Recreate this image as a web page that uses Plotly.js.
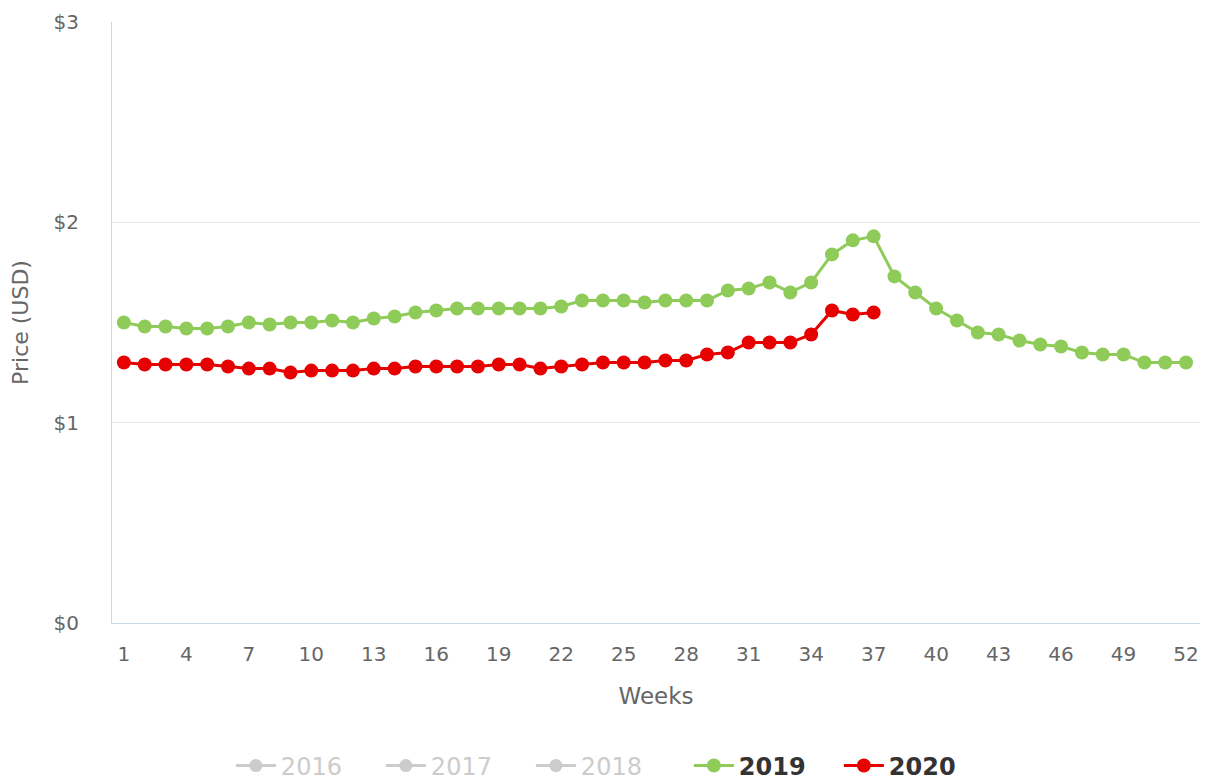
<!DOCTYPE html>
<html>
<head>
<meta charset="utf-8">
<script src="https://cdn.plot.ly/plotly-3.0.1.min.js"></script>
<style>
  html, body { margin: 0; padding: 0; background: #fff; }
  #chart { width: 1206px; height: 782px; }
</style>
</head>
<body>
<div id="chart"></div>
<script>
const weeks2019 = [1,2,3,4,5,6,7,8,9,10,11,12,13,14,15,16,17,18,19,20,21,22,23,24,25,26,27,28,29,30,31,32,33,34,35,36,37,38,39,40,41,42,43,44,45,46,47,48,49,50,51,52];
const price2019 = [1.50,1.48,1.48,1.47,1.47,1.48,1.50,1.49,1.50,1.50,1.51,1.50,1.52,1.53,1.55,1.56,1.57,1.57,1.57,1.57,1.57,1.58,1.61,1.61,1.61,1.60,1.61,1.61,1.61,1.66,1.67,1.70,1.65,1.70,1.84,1.91,1.93,1.73,1.65,1.57,1.51,1.45,1.44,1.41,1.39,1.38,1.35,1.34,1.34,1.30,1.30,1.30];
const weeks2020 = [1,2,3,4,5,6,7,8,9,10,11,12,13,14,15,16,17,18,19,20,21,22,23,24,25,26,27,28,29,30,31,32,33,34,35,36,37];
const price2020 = [1.30,1.29,1.29,1.29,1.29,1.28,1.27,1.27,1.25,1.26,1.26,1.26,1.27,1.27,1.28,1.28,1.28,1.28,1.29,1.29,1.27,1.28,1.29,1.30,1.30,1.30,1.31,1.31,1.34,1.35,1.40,1.40,1.40,1.44,1.56,1.54,1.55];
const hiddenYears = ['2016','2017','2018'];
const yTickVals = [0,1,2,3];
const yTickText = ['$0','$1','$2','$3'];

const FONT = 'DejaVu Sans, Verdana, sans-serif';
const traces = [];
hiddenYears.forEach(function (yr, i) {
  traces.push({
    x: [null], y: [null], type: 'scatter', mode: 'lines+markers',
    name: '<span style="color:#cccccc">' + yr + '</span>',
    hoverinfo: 'skip',
    legendwidth: i === 2 ? 103 : 95,
    line: { color: '#cccccc', width: 3 },
    marker: { color: '#cccccc', size: 13 }
  });
});
traces.push({
  x: weeks2019, y: price2019, type: 'scatter', mode: 'lines+markers',
  name: '<b>2019</b>',
  line: { color: '#8fcb59', width: 3 },
  marker: { color: '#8fcb59', size: 14 }
});
traces.push({
  x: weeks2020, y: price2020, type: 'scatter', mode: 'lines+markers',
  name: '<b>2020</b>',
  line: { color: '#e60000', width: 3 },
  marker: { color: '#e60000', size: 14 }
});

const layout = {
  width: 1206, height: 782,
  margin: { l: 112, r: 6, t: 22, b: 159 },
  paper_bgcolor: '#fff', plot_bgcolor: '#fff',
  font: { family: FONT, color: '#666' },
  showlegend: true,
  xaxis: {
    range: [0.43, 52.67],
    tickmode: 'linear', tick0: 1, dtick: 3,
    showgrid: false, zeroline: false,
    showline: true, linecolor: '#ccd6eb', linewidth: 1,
    ticks: 'outside', ticklen: 13, tickcolor: 'rgba(0,0,0,0)',
    tickfont: { family: FONT, size: 20, color: '#666' },
    title: { text: 'Weeks', font: { family: FONT, size: 23, color: '#666' }, standoff: 22 }
  },
  yaxis: {
    range: [0, 3],
    tickmode: 'array', tickvals: yTickVals, ticktext: yTickText,
    showgrid: true, gridcolor: '#e6e6e6', gridwidth: 1,
    zeroline: false,
    showline: true, linecolor: '#ccd6eb', linewidth: 1,
    ticks: 'outside', ticklen: 28, tickcolor: 'rgba(0,0,0,0)',
    tickfont: { family: FONT, size: 20, color: '#666' },
    title: { text: 'Price (USD)', font: { family: FONT, size: 22, color: '#666' }, standoff: 18 }
  },
  legend: {
    orientation: 'h',
    xref: 'container', yref: 'container',
    x: 0.5057, xanchor: 'center',
    y: 0.0205, yanchor: 'middle',
    itemwidth: 40,
    entrywidth: 95,
    font: { family: FONT, size: 24, color: '#333' },
    bgcolor: 'rgba(0,0,0,0)'
  }
};

Plotly.newPlot('chart', traces, layout, { displayModeBar: false });
</script>
</body>
</html>
